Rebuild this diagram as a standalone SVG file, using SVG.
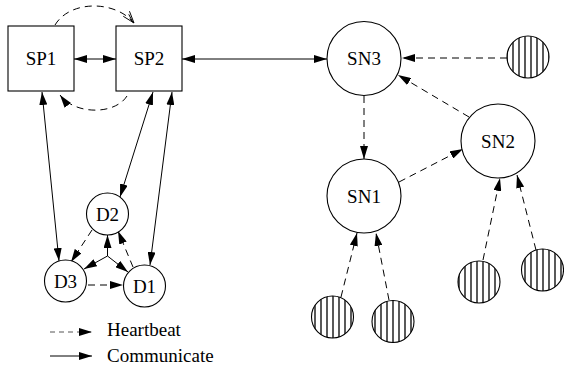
<svg xmlns="http://www.w3.org/2000/svg" width="564" height="369" viewBox="0 0 564 369">
  <defs>
    <marker id="arr" viewBox="0 0 13 8" refX="13" refY="4" markerWidth="13" markerHeight="8" markerUnits="userSpaceOnUse" orient="auto-start-reverse">
      <path d="M0,0 L13,4 L0,8 z" fill="#000"/>
    </marker>
    <marker id="open" viewBox="0 0 14 10" refX="13" refY="5" markerWidth="14" markerHeight="10" markerUnits="userSpaceOnUse" orient="auto">
      <path d="M1,1 L13,5 L1,9 M3,3.5 L12,5.5" fill="none" stroke="#000" stroke-width="0.9"/>
    </marker>
    <pattern id="hatch" patternUnits="userSpaceOnUse" width="6" height="6">
      <line x1="3" y1="0" x2="3" y2="6" stroke="#000" stroke-width="1.3"/>
    </pattern>
  </defs>
  <style>
    .box, .node { fill: #fff; stroke: #000; stroke-width: 1.1; }
    .peer { fill: url(#hatch); stroke: #000; stroke-width: 1.1; }
    text { font-family: 'Liberation Serif', 'DejaVu Serif', 'Times New Roman', serif; font-size: 19px; fill: #000; }
    .lbl { text-anchor: middle; }
    .comm { fill: none; stroke: #000; stroke-width: 1; marker-end: url(#arr); }
    .both { marker-start: url(#arr); }
    .hb { fill: none; stroke: #000; stroke-width: 1; stroke-dasharray: 7 5; marker-end: url(#arr); }
  </style>

  <!-- connectors -->
  <g id="connectors">
    <!-- communicate links -->
    <line class="comm both" x1="74" y1="59" x2="116" y2="59"/>
    <line class="comm both" x1="182" y1="59" x2="327" y2="59"/>
    <line class="comm both" x1="42" y1="92" x2="59" y2="261"/>
    <line class="comm both" x1="153" y1="92" x2="120" y2="197"/>
    <line class="comm both" x1="172" y1="92" x2="150" y2="265"/>
    <line class="comm" x1="107.5" y1="256" x2="107.5" y2="235"/>
    <line class="comm" x1="107.5" y1="256" x2="84" y2="269"/>
    <line class="comm" x1="107.5" y1="256" x2="128" y2="272"/>
    <!-- heartbeat links -->
    <path d="M55,25 C70,0 115,0 134,23" fill="none" stroke="#000" stroke-width="1" stroke-dasharray="7 5" marker-end="url(#open)"/>
    <path d="M127,96 C115,115 75,115 60,95" class="hb"/>
    <line class="hb" x1="92" y1="230" x2="71" y2="262"/>
    <line class="hb" x1="133" y1="267" x2="118" y2="231"/>
    <line class="hb" x1="88" y1="285" x2="123" y2="285"/>
    <line class="hb" x1="507" y1="58" x2="402" y2="58"/>
    <line class="hb" x1="469" y1="117" x2="398" y2="75"/>
    <line class="hb" x1="364" y1="96" x2="364" y2="159"/>
    <line class="hb" x1="399" y1="182" x2="463" y2="149"/>
    <line class="hb" x1="341" y1="297" x2="357" y2="233"/>
    <line class="hb" x1="389" y1="300" x2="376" y2="233"/>
    <line class="hb" x1="483" y1="260" x2="500" y2="178"/>
    <line class="hb" x1="536" y1="250" x2="517" y2="175"/>
  </g>

  <!-- super peers -->
  <g id="SP1">
    <rect class="box" x="8" y="26" width="66" height="65"/>
    <text class="lbl" x="41" y="65" font-family="Liberation Serif">SP1</text>
  </g>
  <g id="SP2">
    <rect class="box" x="116" y="26" width="66" height="65"/>
    <text class="lbl" x="149" y="65" font-family="Liberation Serif">SP2</text>
  </g>

  <!-- data nodes -->
  <g id="D2">
    <circle class="node" cx="107.5" cy="214" r="21"/>
    <text class="lbl" x="107.5" y="220.5">D2</text>
  </g>
  <g id="D3">
    <circle class="node" cx="65.5" cy="281" r="21"/>
    <text class="lbl" x="65.5" y="287.5">D3</text>
  </g>
  <g id="D1">
    <circle class="node" cx="144.5" cy="286" r="21"/>
    <text class="lbl" x="144.5" y="292.5">D1</text>
  </g>

  <!-- storage nodes -->
  <g id="SN3">
    <circle class="node" cx="364" cy="58.5" r="37"/>
    <text class="lbl" x="364" y="65">SN3</text>
  </g>
  <g id="SN2">
    <circle class="node" cx="498" cy="141" r="37"/>
    <text class="lbl" x="498" y="147.5">SN2</text>
  </g>
  <g id="SN1">
    <circle class="node" cx="364" cy="196" r="37"/>
    <text class="lbl" x="364" y="202.5">SN1</text>
  </g>

  <!-- hatched peers -->
  <g id="P1"><circle class="peer" cx="528" cy="57" r="21"/></g>
  <g id="P2"><circle class="peer" cx="332.5" cy="317" r="21"/></g>
  <g id="P3"><circle class="peer" cx="393" cy="321.5" r="21"/></g>
  <g id="P4"><circle class="peer" cx="479" cy="282" r="21"/></g>
  <g id="P5"><circle class="peer" cx="542.5" cy="270" r="21"/></g>

  <!-- legend -->
  <g id="legend">
    <line x1="50" y1="332" x2="92" y2="332" stroke="#555" stroke-width="1" stroke-dasharray="5 4" marker-end="url(#arr)"/>
    <text x="107" y="336">Heartbeat</text>
    <line x1="50" y1="356" x2="92" y2="356" stroke="#000" stroke-width="1" marker-end="url(#arr)"/>
    <text x="107" y="362">Communicate</text>
  </g>
</svg>
